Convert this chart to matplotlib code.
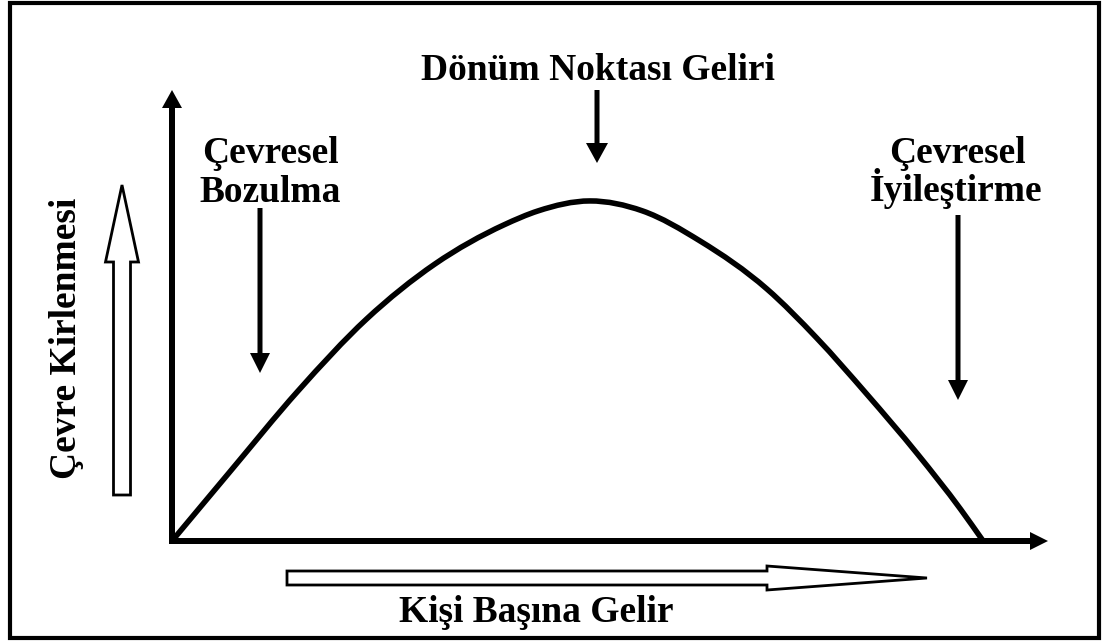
import matplotlib
matplotlib.use("Agg")
import matplotlib.pyplot as plt
import numpy as np
from matplotlib.patches import FancyArrow, Rectangle, PathPatch
from matplotlib.path import Path

# Kuznets egrisi: kisi basina gelir (x) ve cevre kirlenmesi (y)
gelir = [0, 6.5, 14.4, 22.2, 30.0, 37.9, 41.8, 47.7, 53.7,
         60.3, 67.9, 73.6, 79.3, 85.1, 90.0, 92.6]
kirlilik = [0, 15.1, 33.3, 49.2, 61.4, 70.1, 73.2, 75.4, 73.2,
            66.5, 55.9, 45.0, 32.6, 19.3, 7.1, 0]

etiketler = ["Çevresel\nBozulma", "Dönüm Noktası Geliri", "Çevresel\nİyileştirme"]
x_etiket = "Kişi Başına Gelir"
y_etiket = "Çevre Kirlenmesi"

W, H = 1103, 641
fig = plt.figure(figsize=(W / 100, H / 100), dpi=100)
fig.patch.set_facecolor("white")

# egri icin veri ekseni (orijin 172,541 px; uclar 1048 ve 90 px)
ax = fig.add_axes([172 / W, (H - 541) / H, (1048 - 172) / W, (541 - 90) / H])
ax.set_xlim(0, 100)
ax.set_ylim(0, 100)
ax.axis("off")

# okunan noktalardan gecen yumusak egri (x'e gore Hermite -> Bezier)
x = np.array(gelir, dtype=float)
y = np.array(kirlilik, dtype=float)
m = np.gradient(y, x)
verts = [(x[0], y[0])]
codes = [Path.MOVETO]
for i in range(len(x) - 1):
    h = x[i + 1] - x[i]
    verts += [(x[i] + h / 3, y[i] + m[i] * h / 3),
              (x[i + 1] - h / 3, y[i + 1] - m[i + 1] * h / 3),
              (x[i + 1], y[i + 1])]
    codes += [Path.CURVE4] * 3
ax.add_patch(PathPatch(Path(verts, codes), fill=False, ec="black", lw=4,
                       capstyle="round", joinstyle="round", clip_on=False))

# piksel koordinatli ust katman: eksen oklari, yazilar, cerceve
ov = fig.add_axes([0, 0, 1, 1], zorder=-1)
ov.set_xlim(0, W)
ov.set_ylim(H, 0)
ov.axis("off")

ov.add_patch(Rectangle((10, 3), 1089, 635, fill=False, ec="black", lw=3))

def ok(x0, y0, x1, y1, w, hw, hl, fc="black", lw=0):
    ov.add_patch(FancyArrow(x0, y0, x1 - x0, y1 - y0, width=w, head_width=hw,
                            head_length=hl, length_includes_head=True,
                            fc=fc, ec="black", lw=lw))

# eksenler
ok(172, 544, 172, 90, 6, 20, 18)
ok(169, 541, 1048, 541, 6, 18, 18)

# dolu oklar
ok(260, 208, 260, 373, 5, 20, 20)
ok(597, 90, 597, 163, 5, 22, 20)
ok(958, 215, 958, 400, 5, 20, 20)

# bos oklar
ok(122, 495, 122, 185, 17, 33, 77, fc="white", lw=2)
ok(287, 578, 927, 578, 14, 24, 160, fc="white", lw=2)

fnt = dict(family="Liberation Serif", weight="bold", size=27, color="black")
sol = etiketler[0].split("\n")
ov.text(270, 163, sol[0], ha="center", va="baseline", **fnt)
ov.text(270, 202, sol[1], ha="center", va="baseline", **fnt)
ov.text(598, 80, etiketler[1], ha="center", va="baseline", **fnt)
sag = etiketler[2].split("\n")
ov.text(957, 163, sag[0], ha="center", va="baseline", **fnt)
ov.text(956, 201, sag[1], ha="center", va="baseline", **fnt)
ov.text(536, 622, x_etiket, ha="center", va="baseline", **fnt)
ov.text(67, 338, y_etiket, ha="center", va="center", rotation=90, **fnt)

fig.savefig("out.png", dpi=100, facecolor="white")
